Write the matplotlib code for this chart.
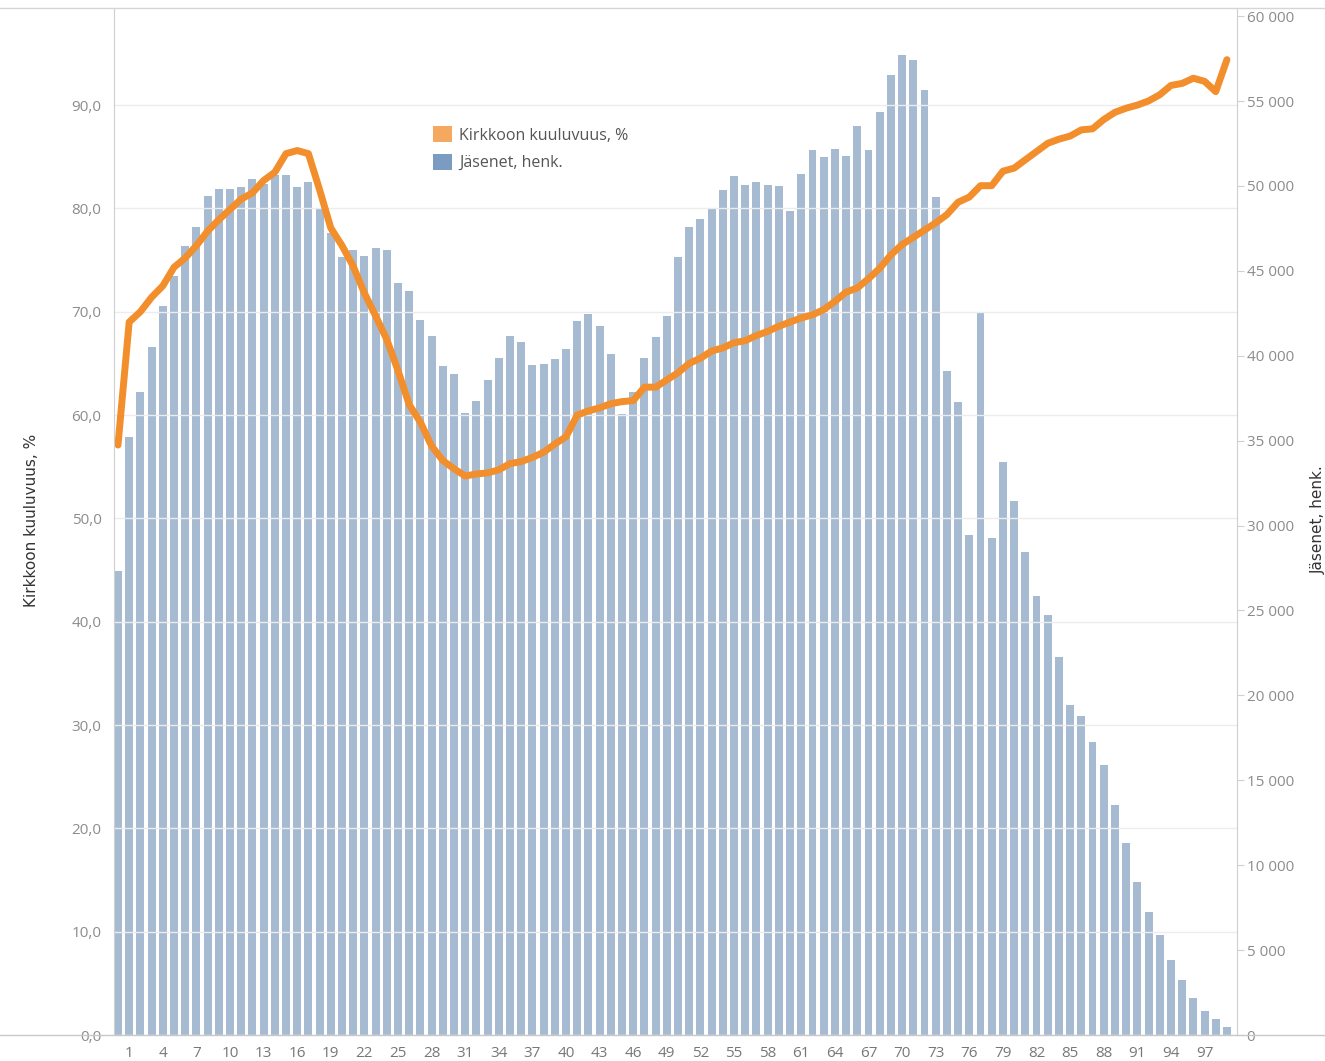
import matplotlib
matplotlib.use("Agg")
import matplotlib.pyplot as plt
from matplotlib.lines import Line2D
from matplotlib.patches import Patch
from matplotlib.ticker import FuncFormatter, MultipleLocator

# ikä 0..99
ika = list(range(100))

# Jäsenet, henk. (luettu kuvasta)
jasenet = [27300, 35200, 37860, 40500, 42920, 44690, 46450, 47570, 49420, 49830,
           49830, 49910, 50380, 50090, 50630, 50630, 49910, 50220, 48710, 47200,
           45800, 46220, 45890, 46360, 46220, 44290, 43800, 42110, 41150, 39390,
           38900, 36640, 37310, 38590, 39860, 41150, 40820, 39470, 39540, 39780,
           40410, 42040, 42430, 41780, 40120, 36580, 37860, 39870, 41080, 42360,
           45830, 47570, 48070, 48710, 49750, 50560, 50070, 50220, 50070, 49990,
           48540, 50720, 52090, 51680, 52170, 51780, 53540, 52090, 54340, 56510,
           57720, 57390, 55620, 49350, 39130, 37290, 29470, 42590, 29260, 33760,
           31440, 28440, 25860, 24720, 22250, 19420, 18800, 17270, 15890, 13570,
           11320, 9000, 7230, 5860, 4400, 3210, 2150, 1430, 950, 480]

# Kirkkoon kuuluvuus, %
kuuluvuus = [57.1, 69.0, 70.0, 71.4, 72.5, 74.3, 75.2, 76.4, 77.8, 78.9,
             79.9, 80.9, 81.5, 82.7, 83.5, 85.3, 85.6, 85.3, 81.8, 78.1,
             76.4, 74.4, 71.8, 69.6, 67.3, 64.3, 61.0, 59.3, 57.0, 55.6,
             54.8, 54.1, 54.3, 54.4, 54.7, 55.3, 55.5, 55.9, 56.4, 57.2,
             57.9, 60.0, 60.4, 60.7, 61.1, 61.3, 61.4, 62.7, 62.7, 63.4,
             64.1, 65.0, 65.5, 66.2, 66.5, 67.0, 67.2, 67.7, 68.1, 68.6,
             69.0, 69.4, 69.7, 70.2, 71.0, 71.9, 72.3, 73.2, 74.2, 75.5,
             76.5, 77.2, 77.9, 78.6, 79.4, 80.6, 81.1, 82.2, 82.2, 83.6,
             83.9, 84.7, 85.5, 86.3, 86.7, 87.0, 87.6, 87.7, 88.6, 89.3,
             89.7, 90.0, 90.4, 91.0, 91.9, 92.1, 92.6, 92.3, 91.3, 94.4]

x_ticks = list(range(1, 100, 3))

plt.rcParams['font.family'] = ['Open Sans', 'DejaVu Sans']

fig = plt.figure(figsize=(13.25, 10.61), dpi=100)
ax = fig.add_axes([0.086, 0.0245, 0.8476, 0.968])
ax2 = ax.twinx()

# pylväät oikealle akselille, viiva vasemmalle
ax2.bar(ika, jasenet, width=0.71, color='#4E79A7', alpha=0.5, linewidth=0)
ax.plot(ika, kuuluvuus, color='#F28E2B', lw=5, solid_capstyle='round',
        solid_joinstyle='round')
ax.set_zorder(ax2.get_zorder() + 1)
ax.patch.set_visible(False)

ax.set_xlim(-0.36, 99.9)
ax.set_ylim(0, 99.4)
ax2.set_ylim(0, 60480)

ax.yaxis.set_major_locator(MultipleLocator(10))
ax.yaxis.set_major_formatter(FuncFormatter(lambda v, p: f"{v:.1f}".replace('.', ',')))
ax2.yaxis.set_major_locator(MultipleLocator(5000))
ax2.yaxis.set_major_formatter(FuncFormatter(lambda v, p: f"{int(v):,}".replace(',', ' ')))
ax.set_xticks(x_ticks)
ax.set_xticklabels([str(t) for t in x_ticks])

ax.grid(axis='y', color='#ececec', lw=1)
ax.tick_params(axis='y', length=0, pad=9, labelsize=11, labelcolor='#8c8c8c')
ax.tick_params(axis='x', length=0, pad=8, labelsize=11, labelcolor='#777777')
ax2.tick_params(axis='y', length=5, width=0.8, color='#d0d0d0', pad=2,
                labelsize=11, labelcolor='#8c8c8c')

for a in (ax, ax2):
    a.spines['top'].set_visible(False)
    a.spines['bottom'].set_visible(False)
ax.spines['left'].set_color('#cfcfcf')
ax.spines['right'].set_visible(False)
ax2.spines['left'].set_visible(False)
ax2.spines['right'].set_color('#cfcfcf')

# reunaviivat koko leveydeltä
fig.add_artist(Line2D([0, 1], [0.9925, 0.9925], transform=fig.transFigure, color='#d5d5d5', lw=1))
fig.add_artist(Line2D([0, 1], [0.0245, 0.0245], transform=fig.transFigure, color='#c8c8c8', lw=1))

fig.text(0.024, 0.51, 'Kirkkoon kuuluvuus, %', rotation=90, ha='center', va='center',
         fontsize=11, color='#333333', family='Liberation Sans Narrow')
fig.text(0.995, 0.51, 'Jäsenet, henk.', rotation=90, ha='center', va='center',
         fontsize=11, color='#333333', family='Liberation Sans Narrow')

handles = [Patch(facecolor='#F5A860', edgecolor='none'),
           Patch(facecolor='#7B9BC0', edgecolor='none')]
ax.legend(handles, ['Kirkkoon kuuluvuus, %', 'Jäsenet, henk.'], loc='upper left',
          bbox_to_anchor=(0.271, 0.899), frameon=False, fontsize=11.5,
          handlelength=1.2, handleheight=1.2, handletextpad=0.45, labelspacing=0.62,
          labelcolor='#555555')

plt.savefig('out.png', dpi=100)
